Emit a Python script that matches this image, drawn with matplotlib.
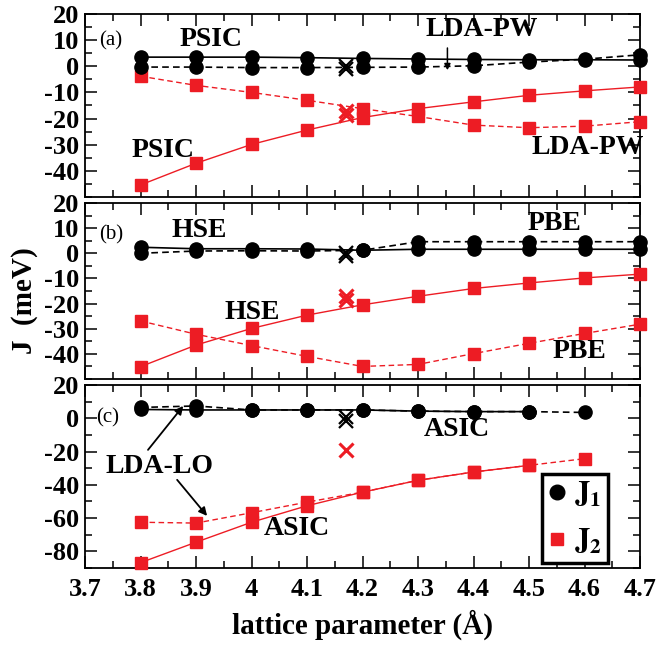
import matplotlib
matplotlib.use('Agg')
import matplotlib.pyplot as plt
from matplotlib.ticker import MultipleLocator, FuncFormatter
from matplotlib.lines import Line2D

plt.rcParams['font.family'] = 'serif'
plt.rcParams['font.serif'] = ['Liberation Serif', 'DejaVu Serif']
plt.rcParams['mathtext.fontset'] = 'stix'
plt.rcParams['axes.unicode_minus'] = False

# lattice parameters (Angstrom)
x_full = [3.8, 3.9, 4.0, 4.1, 4.2, 4.3, 4.4, 4.5, 4.6, 4.7]
x_c_lo = [3.8, 3.9, 4.0, 4.1, 4.2, 4.3, 4.4, 4.5, 4.6]
x_c_asic = [3.8, 3.9, 4.0, 4.1, 4.2, 4.3, 4.4, 4.5]
x_exp = 4.17

# (a) PSIC (solid) vs LDA-PW (dashed)
a_psic_j1 = [3.5, 3.5, 3.5, 3.3, 3.0, 2.8, 2.6, 2.5, 2.5, 2.4]
a_pw_j1 = [-0.3, -0.3, -0.5, -0.5, -0.4, -0.3, 0.2, 1.6, 2.7, 4.4]
a_psic_j2 = [-45.4, -37.1, -29.9, -24.4, -19.6, -16.2, -13.6, -11.1, -9.4, -7.9]
a_pw_j2 = [-3.8, -7.3, -10.0, -13.0, -16.2, -19.2, -22.5, -23.5, -22.9, -21.2]
a_exp_j1 = [0.2, -1.2]
a_exp_j2 = [-17.2, -18.6]

# (b) HSE (solid) vs PBE (dashed)
b_hse_j1 = [2.4, 1.8, 1.8, 1.7, 1.2, 1.6, 1.6, 1.6, 1.6, 1.6]
b_pbe_j1 = [0.0, 0.9, 1.0, 0.9, 1.2, 4.6, 4.6, 4.6, 4.6, 4.6]
b_hse_j2 = [-45.1, -36.5, -29.9, -24.6, -20.5, -17.1, -14.0, -11.8, -9.8, -8.3]
b_pbe_j2 = [-26.9, -32.2, -36.7, -41.0, -45.0, -44.2, -39.9, -35.8, -31.9, -28.2]
b_exp_j1 = [0.3, -1.2]
b_exp_j2 = [-17.0, -18.5]

# (c) ASIC (solid) vs LDA-LO (dashed)
c_asic_j1 = [5.3, 5.0, 5.0, 5.0, 5.0, 4.3, 4.0, 4.0]
c_lo_j1 = [6.5, 7.4, 5.0, 5.0, 5.0, 4.3, 4.0, 4.0, 3.5]
c_asic_j2 = [-86.8, -74.5, -62.5, -52.6, -44.4, -37.3, -32.3, -28.3]
c_lo_j2 = [-62.5, -63.0, -56.8, -50.4, -44.4, -37.3, -32.3, -28.3, -24.3]
c_exp_j1 = [0.5, -1.5]
c_exp_j2 = [-19.0]

RED = '#ed1c24'
DASH = (0, (4, 2.5))

fig = plt.figure(figsize=(6.57, 6.45), dpi=100)
left, width = 85 / 657, 555 / 657
ax_a = fig.add_axes([left, 1 - 197 / 645, width, 183 / 645])
ax_b = fig.add_axes([left, 1 - 379 / 645, width, 176 / 645])
ax_c = fig.add_axes([left, 1 - 568 / 645, width, 183 / 645])


def draw(ax, xs, ys, color, marker, ms, ls, lw):
    ax.plot(xs, ys, color=color, ls=ls, lw=lw, marker=marker, ms=ms,
            mec=color, mfc=color, clip_on=False, zorder=3)


def panel(ax, x1s, x1d, j1s, j1d, x2s, x2d, j2s, j2d, ej1, ej2):
    draw(ax, x2d, j2d, RED, 's', 8.5, DASH, 1.0)
    draw(ax, x2s, j2s, RED, 's', 8.5, '-', 1.0)
    draw(ax, x1d, j1d, 'black', 'o', 9.5, DASH, 1.2)
    draw(ax, x1s, j1s, 'black', 'o', 9.5, '-', 1.2)
    for v in ej1:
        ax.plot(x_exp, v, marker='x', ms=10, mew=1.6, color='black', zorder=4)
    for v in ej2:
        ax.plot(x_exp, v, marker='x', ms=10, mew=2.2, color=RED, zorder=4)


panel(ax_a, x_full, x_full, a_psic_j1, a_pw_j1, x_full, x_full, a_psic_j2, a_pw_j2,
      a_exp_j1, a_exp_j2)
panel(ax_b, x_full, x_full, b_hse_j1, b_pbe_j1, x_full, x_full, b_hse_j2, b_pbe_j2,
      b_exp_j1, b_exp_j2)
panel(ax_c, x_c_asic, x_c_lo, c_asic_j1, c_lo_j1, x_c_asic, x_c_lo, c_asic_j2, c_lo_j2,
      c_exp_j1, c_exp_j2)

for ax, lo, hi, maj in [(ax_a, -50, 20, 10), (ax_b, -50, 20, 10), (ax_c, -90, 20, 20)]:
    ax.set_xlim(3.7, 4.7)
    ax.set_ylim(lo, hi)
    ax.xaxis.set_major_locator(MultipleLocator(0.1))
    ax.xaxis.set_minor_locator(MultipleLocator(0.05))
    ax.yaxis.set_major_locator(MultipleLocator(maj))
    ax.yaxis.set_minor_locator(MultipleLocator(maj / 2))
    ax.tick_params(which='both', direction='in', top=True, right=True, width=1.1)
    ax.tick_params(which='major', length=8.5, labelsize=19, pad=4)
    ax.tick_params(which='minor', length=5)
    for s in ax.spines.values():
        s.set_linewidth(1.3)
    ax.yaxis.set_major_formatter(FuncFormatter(lambda v, p: f'{v:g}'))
    for lab in ax.get_yticklabels():
        lab.set_fontweight('bold')
    if ax is not ax_c:
        ax.tick_params(labelbottom=False)

# the upper panels carry no label at their bottom tick
for ax in (ax_a, ax_b):
    ax.set_yticks([20, 10, 0, -10, -20, -30, -40])
    ax.set_ylim(-50, 20)
    ax.set_yticklabels([f'{v:g}' for v in [20, 10, 0, -10, -20, -30, -40]],
                       fontweight='bold')

ax_c.xaxis.set_major_formatter(FuncFormatter(lambda v, p: f'{v:g}'))
for lab in ax_c.get_xticklabels():
    lab.set_fontweight('bold')
ax_c.tick_params(axis='x', pad=7)

bold = dict(fontsize=20, fontweight='bold', ha='center', va='center')
ax_a.text(3.747, 9.7, '(a)', fontsize=15, ha='center', va='center')
ax_a.text(3.927, 10.1, 'PSIC', **bold)
ax_a.text(3.841, -32.4, 'PSIC', **bold)
ax_a.text(4.415, 13.9, 'LDA-PW', **bold)
ax_a.text(4.606, -30.9, 'LDA-PW', **bold)
ax_a.annotate('', xy=(4.353, -1.5), xytext=(4.353, 7.0),
              arrowprops=dict(arrowstyle='-|>', color='black', lw=1.1,
                              mutation_scale=9, shrinkA=0, shrinkB=0))

ax_b.text(3.747, 7.3, '(b)', fontsize=15, ha='center', va='center')
ax_b.text(3.905, 8.9, 'HSE', **bold)
ax_b.text(4.001, -23.6, 'HSE', **bold)
ax_b.text(4.545, 11.7, 'PBE', **bold)
ax_b.text(4.59, -39.2, 'PBE', **bold)

ax_c.text(3.74, 0, '(c)', fontsize=15, ha='center', va='center')
ax_c.text(3.835, -28.7, 'LDA-LO', **bold)
ax_c.text(4.082, -66.5, 'ASIC', **bold)
ax_c.text(4.37, -7, 'ASIC', **bold)
arrow = dict(arrowstyle='-|>', color='black', lw=1.3, mutation_scale=12,
             shrinkA=0, shrinkB=0)
ax_c.annotate('', xy=(3.877, 7.4), xytext=(3.8135, -19), arrowprops=arrow)
ax_c.annotate('', xy=(3.92, -58.7), xytext=(3.866, -37), arrowprops=arrow)

handles = [Line2D([], [], ls='none', marker='o', ms=10.5, color='black'),
           Line2D([], [], ls='none', marker='s', ms=9, color=RED)]
leg = ax_c.legend(handles, [r'$\mathbf{J}_{\mathbf{1}}$', r'$\mathbf{J}_{\mathbf{2}}$'],
                  loc='lower right', bbox_to_anchor=(0.942, 0.027), borderaxespad=0,
                  fontsize=22, handlelength=0.6, handletextpad=0.25,
                  borderpad=0.2, labelspacing=0.6, fancybox=False,
                  framealpha=1, edgecolor='black')
leg.get_frame().set_linewidth(2.5)

ax_c.set_xlabel('lattice parameter (Å)', fontsize=21, fontweight='bold', labelpad=6)
fig.text(24 / 657, 1 - 301 / 645, 'J  (meV)', rotation=90, fontsize=21,
         fontweight='bold', ha='center', va='center')

fig.savefig('out.png', dpi=100)
